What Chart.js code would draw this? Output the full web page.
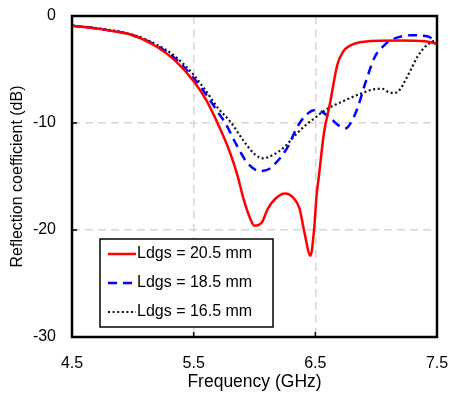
<!DOCTYPE html>
<html>
<head>
<meta charset="utf-8">
<script src="https://cdn.jsdelivr.net/npm/chart.js@4/dist/chart.umd.min.js"></script>
<style>
  html, body { margin: 0; padding: 0; background: #fff; }
  #wrap { width: 449px; height: 394px; }
</style>
</head>
<body>
<div id="wrap"><canvas id="s11-chart" width="449" height="394"></canvas></div>
<script>
// values
const seriesLabels = ['Ldgs = 20.5 mm', 'Ldgs = 18.5 mm', 'Ldgs = 16.5 mm'];

const freqA = [4.5, 4.75, 5.0, 5.2, 5.35, 5.5, 5.6, 5.7, 5.8, 5.86, 5.91, 5.96, 6.0, 6.06, 6.11, 6.17, 6.25, 6.32, 6.37, 6.41, 6.46, 6.49, 6.51, 6.53, 6.57, 6.62, 6.68, 6.73, 6.78, 6.9, 7.2, 7.4, 7.5];
const s11A  = [-0.9, -1.25, -1.8, -2.9, -4.2, -6.1, -7.8, -10.1, -12.8, -14.9, -17.1, -18.8, -19.6, -19.3, -18.0, -17.1, -16.6, -17.0, -18.0, -20.2, -22.4, -19.9, -16.8, -14.9, -11.0, -8.2, -4.6, -3.3, -2.8, -2.4, -2.3, -2.35, -2.6];

const freqB = [4.5, 4.75, 5.0, 5.2, 5.35, 5.5, 5.6, 5.7, 5.76, 5.85, 5.94, 6.05, 6.12, 6.17, 6.27, 6.35, 6.42, 6.49, 6.56, 6.62, 6.7, 6.75, 6.8, 6.85, 6.91, 6.99, 7.07, 7.13, 7.29, 7.42, 7.5];
const s11B  = [-0.9, -1.25, -1.8, -2.8, -4.0, -5.8, -7.3, -9.0, -10.0, -12.0, -13.7, -14.5, -14.3, -13.8, -12.3, -10.4, -9.3, -8.8, -9.0, -9.5, -10.3, -10.5, -9.8, -8.5, -6.3, -3.8, -2.7, -2.2, -1.8, -1.9, -2.4];

const freqC = [4.5, 4.75, 5.0, 5.2, 5.35, 5.5, 5.6, 5.7, 5.81, 5.9, 6.0, 6.07, 6.15, 6.25, 6.33, 6.41, 6.5, 6.58, 6.74, 6.91, 6.98, 7.05, 7.1, 7.15, 7.2, 7.24, 7.29, 7.34, 7.4, 7.46, 7.5];
const s11C  = [-0.9, -1.2, -1.75, -2.7, -3.8, -5.5, -7.0, -8.6, -10.0, -11.5, -12.9, -13.3, -13.0, -12.2, -11.2, -10.3, -9.5, -8.8, -7.9, -7.1, -6.85, -6.8, -7.1, -7.2, -6.8, -6.0, -4.9, -3.8, -2.9, -2.4, -2.2];

const xTicks = [4.5, 5.5, 6.5, 7.5];
const yTicks = [0, -10, -20, -30];

const FONT = 'Liberation Sans, Arial, sans-serif';

function toPoints(xs, ys) {
    return xs.map((x, i) => ({ x: x, y: ys[i] }));
}

// stop edge labels from shrinking the plot area
function noEdgePadding(scale) {
    scale.paddingLeft = 0;
    scale.paddingRight = 0;
    scale.paddingTop = 0;
    scale.paddingBottom = 0;
}

// frame box, inner tick marks and the boxed legend inside the plot
const framePlugin = {
    id: 'frame',
    afterDatasetsDraw(chart) {
        const ctx = chart.ctx;
        const a = chart.chartArea;
        const xs = chart.scales.x;
        const ys = chart.scales.y;
        ctx.save();
        ctx.strokeStyle = '#000';
        ctx.lineWidth = 1.5;
        ctx.setLineDash([]);
        xTicks.slice(1, -1).forEach(v => {
            const px = xs.getPixelForValue(v);
            ctx.beginPath();
            ctx.moveTo(px, a.bottom);
            ctx.lineTo(px, a.bottom - 5);
            ctx.stroke();
        });
        yTicks.slice(1, -1).forEach(v => {
            const py = ys.getPixelForValue(v);
            ctx.beginPath();
            ctx.moveTo(a.left, py);
            ctx.lineTo(a.left + 5, py);
            ctx.stroke();
        });
        ctx.lineWidth = 2.5;
        ctx.strokeRect(a.left, a.top, a.right - a.left, a.bottom - a.top);

        // legend
        const lx = a.left + 28, ly = a.top + 223, lw = 173, lh = 88;
        ctx.fillStyle = '#fff';
        ctx.fillRect(lx, ly, lw, lh);
        ctx.lineWidth = 1.5;
        ctx.strokeRect(lx, ly, lw, lh);
        ctx.font = '16px ' + FONT;
        ctx.textBaseline = 'middle';
        chart.data.datasets.forEach((ds, i) => {
            const ry = ly + 15 + i * 29;
            ctx.strokeStyle = ds.borderColor;
            ctx.lineWidth = ds.borderWidth;
            ctx.setLineDash(ds.borderDash || []);
            ctx.beginPath();
            ctx.moveTo(lx + 8, ry);
            ctx.lineTo(lx + 36, ry);
            ctx.stroke();
            ctx.setLineDash([]);
            ctx.fillStyle = '#000';
            ctx.fillText(ds.label, lx + 37, ry);
        });
        ctx.restore();
    }
};

const ctx = document.getElementById('s11-chart').getContext('2d');
const s11Chart = new Chart(ctx, {
    type: 'line',
    data: {
        datasets: [{
            label: seriesLabels[0],
            data: toPoints(freqA, s11A),
            borderColor: '#ff0000',
            borderWidth: 2.5,
            borderDash: []
        }, {
            label: seriesLabels[1],
            data: toPoints(freqB, s11B),
            borderColor: '#0000ff',
            borderWidth: 2.5,
            borderDash: [9, 6]
        }, {
            label: seriesLabels[2],
            data: toPoints(freqC, s11C),
            borderColor: '#111111',
            borderWidth: 2.2,
            borderDash: [2, 2.6]
        }]
    },
    options: {
        responsive: false,
        animation: false,
        layout: { padding: { top: 16, right: 12, left: 0, bottom: 0 } },
        elements: {
            point: { radius: 0 },
            line: { cubicInterpolationMode: 'monotone', fill: false }
        },
        plugins: {
            legend: { display: false },
            tooltip: { enabled: false }
        },
        scales: {
            x: {
                type: 'linear',
                min: 4.5,
                max: 7.5,
                afterBuildTicks: scale => { scale.ticks = xTicks.map(v => ({ value: v })); },
                afterFit: scale => { scale.height = 57; noEdgePadding(scale); },
                ticks: {
                    padding: 17,
                    color: '#000',
                    font: { family: FONT, size: 16 },
                    maxRotation: 0,
                    callback: v => v.toFixed(1)
                },
                grid: { color: '#d6d6d6', lineWidth: 1.5, drawTicks: false },
                border: { display: false, dash: [8, 5] },
                title: {
                    display: true,
                    text: 'Frequency (GHz)',
                    color: '#000',
                    font: { family: FONT, size: 17.5 },
                    padding: { top: 0, bottom: 1 }
                }
            },
            y: {
                min: -30,
                max: 0,
                afterBuildTicks: scale => { scale.ticks = yTicks.map(v => ({ value: v })); },
                afterFit: scale => { scale.width = 72; noEdgePadding(scale); },
                ticks: {
                    padding: 16,
                    color: '#000',
                    font: { family: FONT, size: 16 }
                },
                grid: { color: '#d6d6d6', lineWidth: 1.5, drawTicks: false },
                border: { display: false, dash: [8, 5] },
                title: {
                    display: true,
                    text: 'Reflection coefficient (dB)',
                    color: '#000',
                    font: { family: FONT, size: 16 },
                    padding: { top: 8, bottom: 0 }
                }
            }
        }
    },
    plugins: [framePlugin]
});
</script>
</body>
</html>
